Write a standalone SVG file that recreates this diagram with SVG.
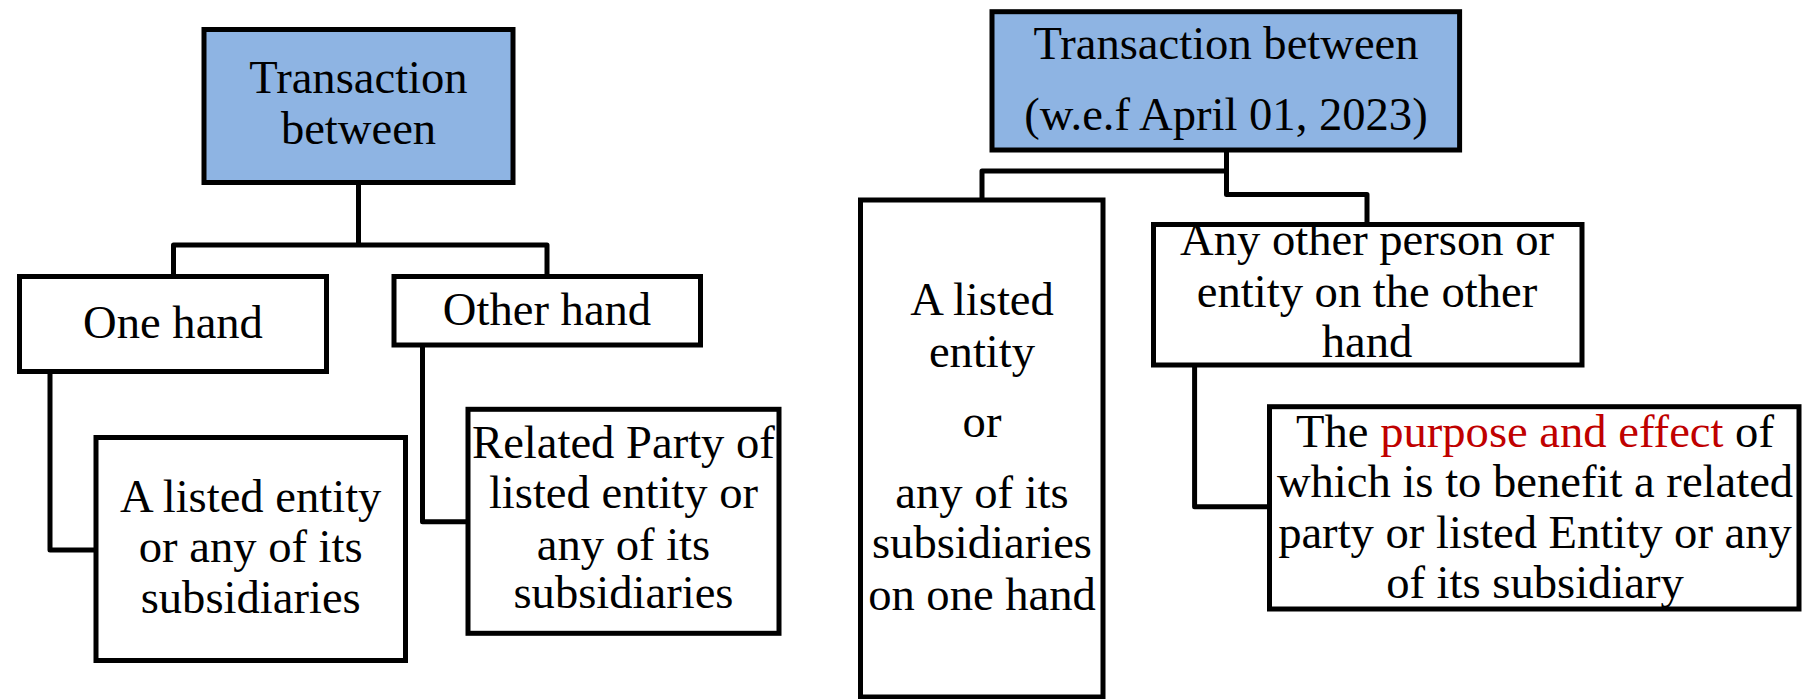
<svg xmlns="http://www.w3.org/2000/svg" width="1802" height="699" viewBox="0 0 1802 699">
<style>
.box{fill:#fff;stroke:#000;stroke-width:5}
.hdr{fill:#8EB4E3;stroke:#000;stroke-width:5}
.t{font-family:"Liberation Serif","Times New Roman",serif;font-size:46.6px;fill:#000;text-anchor:middle}
.red{fill:#C00000}
.conn{fill:none;stroke:#000;stroke-width:5;stroke-linejoin:round}
</style>
<rect width="1802" height="699" fill="#fff"/>
<g id="connectors">
<path class="conn" d="M358.5,182.5V245M173.5,276.5V245H547V276.5"/>
<path class="conn" d="M50,371.5V550H96"/>
<path class="conn" d="M422.5,345V521.7H468"/>
<path class="conn" d="M1226.5,150V194.5H1367V224.5M982,200V171H1226.5"/>
<path class="conn" d="M1194.6,365V506.7H1269.5"/>
</g>
<g id="left-root">
<rect class="hdr" x="204" y="29.5" width="309" height="153"/>
<text class="t" x="358.5" y="93">Transaction</text>
<text class="t" x="358.5" y="144">between</text>
</g>
<g id="left-one-hand">
<rect class="box" x="19.5" y="276.5" width="307" height="95"/>
<text class="t" x="173" y="338">One hand</text>
</g>
<g id="left-other-hand">
<rect class="box" x="394" y="276.5" width="306.5" height="68.5"/>
<text class="t" x="547" y="325">Other hand</text>
</g>
<g id="left-listed-entity">
<rect class="box" x="96" y="437.5" width="309.5" height="223"/>
<text class="t" x="250.7" y="511.7">A listed entity</text>
<text class="t" x="250.7" y="561.7">or any of its</text>
<text class="t" x="250.7" y="613.3">subsidiaries</text>
</g>
<g id="left-related-party">
<rect class="box" x="468" y="409.3" width="311" height="224"/>
<text class="t" x="623.5" y="458.3">Related Party of</text>
<text class="t" x="623.5" y="508.3">listed entity or</text>
<text class="t" x="623.5" y="560">any of its</text>
<text class="t" x="623.5" y="608.3">subsidiaries</text>
</g>
<g id="right-root">
<rect class="hdr" x="992" y="11.7" width="467.6" height="138.3"/>
<text class="t" x="1226" y="59.3">Transaction between</text>
<text class="t" x="1226" y="130">(w.e.f April 01, 2023)</text>
</g>
<g id="right-listed-entity">
<rect class="box" x="860.5" y="200" width="242.5" height="497"/>
<text class="t" x="982" y="315">A listed</text>
<text class="t" x="982" y="366.7">entity</text>
<text class="t" x="982" y="437.3">or</text>
<text class="t" x="982" y="508.3">any of its</text>
<text class="t" x="982" y="558.3">subsidiaries</text>
<text class="t" x="982" y="610">on one hand</text>
</g>
<g id="right-other-person">
<rect class="box" x="1153.5" y="224.5" width="428.5" height="140.5"/>
<text class="t" x="1367" y="255">Any other person or</text>
<text class="t" x="1367" y="306.7">entity on the other</text>
<text class="t" x="1367" y="357.3">hand</text>
</g>
<g id="right-purpose">
<rect class="box" x="1269.5" y="406.7" width="529.5" height="202.3"/>
<text class="t" x="1535" y="446.7">The <tspan class="red">purpose and effect</tspan> of</text>
<text class="t" x="1535" y="496.7">which is to benefit a related</text>
<text class="t" x="1535" y="548.3">party or listed Entity or any</text>
<text class="t" x="1535" y="598.3">of its subsidiary</text>
</g>
</svg>
